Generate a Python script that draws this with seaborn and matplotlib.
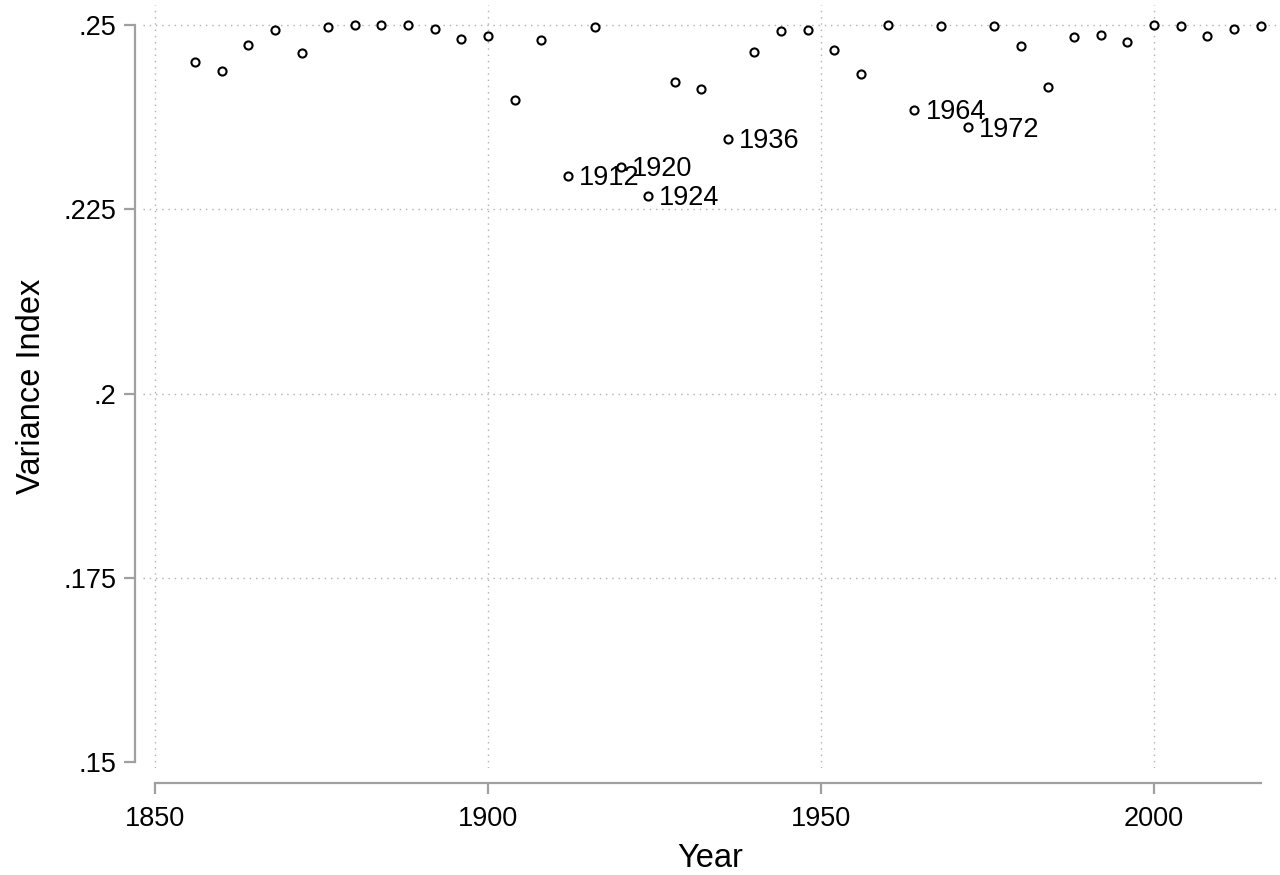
import matplotlib
matplotlib.use("Agg")
import matplotlib.pyplot as plt
import matplotlib.ticker as mticker
import pandas as pd
import seaborn as sns

# Datos
anios = [1856, 1860, 1864, 1868, 1872, 1876, 1880, 1884, 1888, 1892,
         1896, 1900, 1904, 1908, 1912, 1916, 1920, 1924, 1928, 1932,
         1936, 1940, 1944, 1948, 1952, 1956, 1960, 1964, 1968, 1972,
         1976, 1980, 1984, 1988, 1992, 1996, 2000, 2004, 2008, 2012, 2016]
indice = [.2450, .2438, .2473, .2493, .2462, .2497, .2500, .2500, .2500, .2495,
          .2481, .2485, .2398, .2480, .2295, .2497, .2308, .2268, .2423, .2413,
          .2346, .2463, .2492, .2493, .2466, .2433, .2500, .2385, .2499, .2361,
          .2499, .2471, .2416, .2484, .2486, .2477, .2500, .2499, .2485, .2495, .2499]
anios_etiquetados = [1912, 1920, 1924, 1936, 1964, 1972]
x_ticks = [1850, 1900, 1950, 2000]
y_ticks = [.15, .175, .2, .225, .25]

df = pd.DataFrame({"Year": anios, "Variance Index": indice})

sns.set_theme(style="white")
plt.rcParams["font.family"] = ["Liberation Sans", "DejaVu Sans"]

fig = plt.figure(figsize=(12.8, 8.75), dpi=100)
ax = fig.add_axes([143 / 1280, 1 - 768 / 875, (1278 - 143) / 1280, (768 - 5) / 875])

sns.scatterplot(data=df, x="Year", y="Variance Index", ax=ax,
                marker="o", s=34, facecolor="white", edgecolor="black",
                linewidth=1.5, zorder=3)

# etiquetas de los puntos
for a, v in zip(anios, indice):
    if a in anios_etiquetados:
        ax.annotate(str(a), (a, v), xytext=(8, -1.5), textcoords="offset points",
                    va="center", ha="left", fontsize=19.5, color="black")

ax.set_xlim(1848.2, 2018.6)
ax.set_ylim(0.14918, 0.25272)
ax.set_xticks(x_ticks)
ax.set_yticks(y_ticks)
ax.yaxis.set_major_formatter(mticker.FuncFormatter(lambda v, p: f"{v:g}".lstrip("0")))

# rejilla punteada estilo Stata (sin linea en .15)
estilo_rejilla = dict(color="#b0b0b0", linestyle=(0, (1, 3.5)), linewidth=1.0, zorder=1)
for yt in y_ticks[1:]:
    ax.axhline(yt, **estilo_rejilla)
for xt in x_ticks:
    ax.axvline(xt, **estilo_rejilla)

for lado in ["top", "right"]:
    ax.spines[lado].set_visible(False)
ax.spines["left"].set_position(("outward", 6))
ax.spines["bottom"].set_position(("outward", 11))
ax.spines["left"].set_bounds(0.15, 0.25)
ax.spines["bottom"].set_bounds(1850, 2016)
for lado in ["left", "bottom"]:
    ax.spines[lado].set_color("#a0a0a0")
    ax.spines[lado].set_linewidth(1.6)

ax.tick_params(axis="both", direction="out", length=8, width=1.6, color="#a0a0a0",
               labelsize=19.5, labelcolor="black", bottom=True, left=True)
ax.tick_params(axis="y", pad=5)
ax.tick_params(axis="x", pad=8)

ax.set_xlabel("Year", fontsize=23.5, labelpad=8, color="black")
ax.set_ylabel("Variance Index", fontsize=23.5, labelpad=12, color="black")

fig.savefig("out.png", dpi=100)
